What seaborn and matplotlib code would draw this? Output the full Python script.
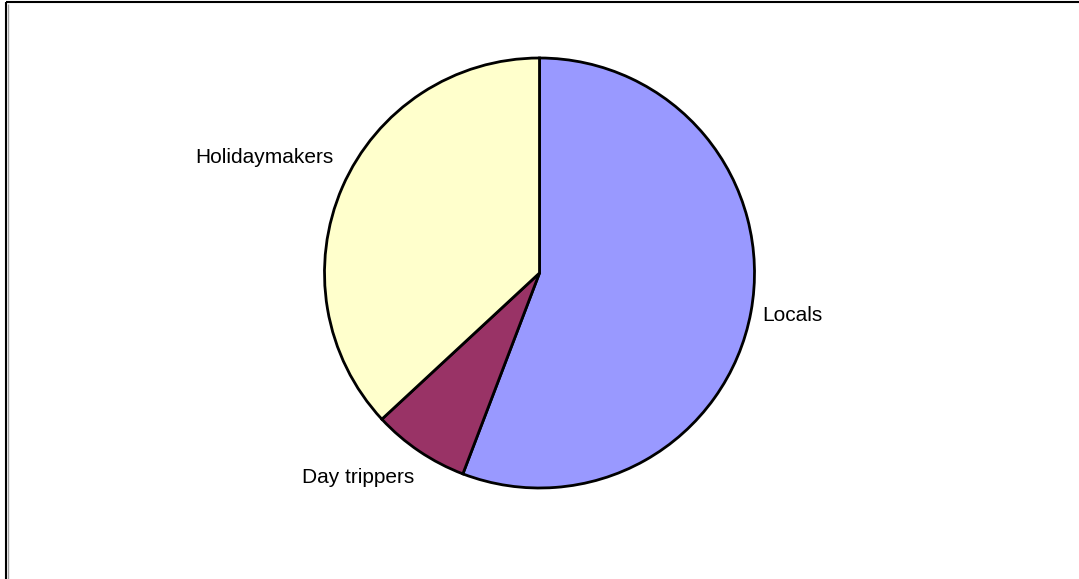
import matplotlib
matplotlib.use("Agg")
import matplotlib.pyplot as plt
import seaborn as sns

# visitor shares (clockwise from 12 o'clock)
categorias = ["Locals", "Day trippers", "Holidaymakers"]
valores = [55.8, 7.3, 36.9]
cores = ["#9999FF", "#993366", "#FFFFCC"]

sns.set_theme(style="white")
plt.rcParams["font.family"] = ["Liberation Sans", "DejaVu Sans"]

fig = plt.figure(figsize=(10.79, 5.79), dpi=100)
ax = fig.add_axes([0, 0, 1, 1])

centro = (539.5, 306)
paleta = sns.color_palette(cores)
fatias, textos = ax.pie(
    valores,
    labels=categorias,
    colors=paleta,
    startangle=90,
    counterclock=False,
    center=centro,
    radius=215,
    labeldistance=1.08,
    wedgeprops=dict(edgecolor="black", linewidth=2),
    textprops=dict(fontsize=15, color="black"),
    frame=True,
)

# ajuste dos rotulos (posicao no estilo do Excel)
ajustes = {"Locals": (-6, 0), "Day trippers": (5, -12), "Holidaymakers": (7, 23)}
for t in textos:
    x, y = t.get_position()
    dx, dy = ajustes[t.get_text()]
    t.set_position((x + dx, y + dy))
    t.set_ha("left" if x > centro[0] else "right")
    t.set_va("center")

ax.set_xlim(0, 1079)
ax.set_ylim(0, 579)
ax.set_xticks([])
ax.set_yticks([])
ax.set_aspect("equal")

# borda da area do grafico (so topo e esquerda aparecem)
for lado in ["top", "bottom", "left", "right"]:
    ax.spines[lado].set_visible(False)
ax.plot([6, 1079], [577, 577], color="black", linewidth=1.5, solid_capstyle="butt")
ax.plot([6, 6], [0, 577], color="black", linewidth=1.5, solid_capstyle="butt")
ax.plot([7.5, 7.5], [0, 575.5], color="#a0a0a0", linewidth=1, solid_capstyle="butt")

fig.savefig("out.png", dpi=100)
